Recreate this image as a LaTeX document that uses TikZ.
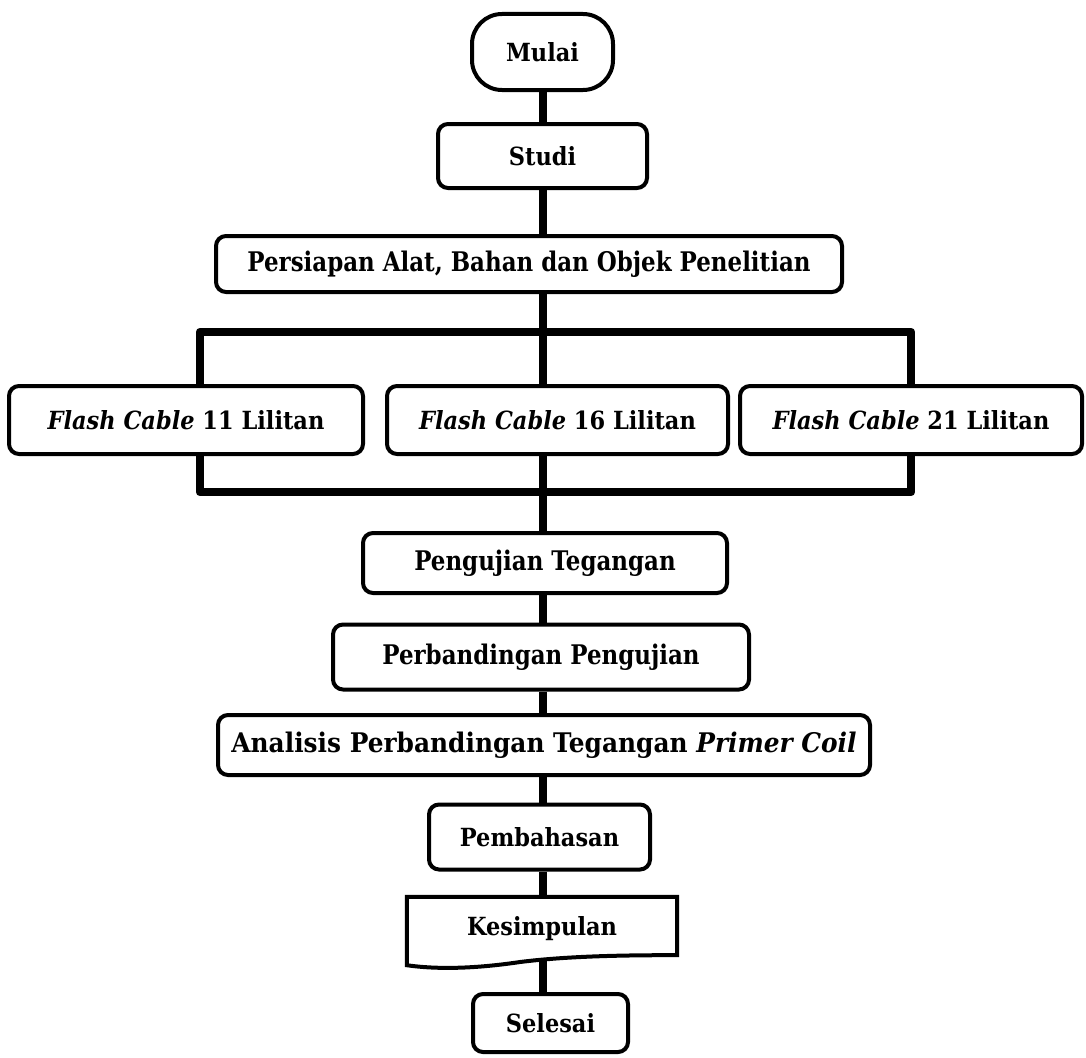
\documentclass[tikz,border=0pt]{standalone}
\usepackage{fontspec}
\setmainfont{DejaVu Serif}[FakeStretch=0.9]
\newfontfamily\condfont[FakeStretch=0.85]{DejaVu Serif}
\newfontfamily\semicondfont[FakeStretch=0.92]{DejaVu Serif}
\pgfdeclarelayer{bg}
\pgfdeclarelayer{mid}
\pgfsetlayers{bg,mid,main}
\tikzset{
  box/.style={draw, line width=4pt, fill=white, rounded corners=10pt, inner sep=0pt,
    font=\fontsize{25}{29}\selectfont\bfseries, align=center},
  condbox/.style={box, font=\fontsize{27}{31}\selectfont\condfont\bfseries},
  link/.style={line width=8pt, line cap=butt},
  bus/.style={line width=8.5pt, line cap=round, line join=round},
}
\begin{document}
\begin{tikzpicture}[x=1pt,y=-1pt]
\useasboundingbox (0,0) rectangle (1086,1057);
\coordinate (sp) at (543,0);
\node[box, rounded corners=30pt, minimum width=141pt, minimum height=76pt] (mulai) at (542.5,52) {Mulai};
\node[box, minimum width=209pt, minimum height=64pt] (studi) at (542.5,156) {Studi};
\node[condbox, minimum width=626pt, minimum height=56pt] (pers) at (529,264) {Persiapan Alat, Bahan dan Objek Penelitian};
\node[box, minimum width=354pt, minimum height=68pt] (f11) at (186,420) {\textit{Flash Cable} 11 Lilitan};
\node[box, minimum width=341pt, minimum height=68pt] (f16) at (557.5,420) {\textit{Flash Cable} 16 Lilitan};
\node[box, minimum width=342pt, minimum height=68pt] (f21) at (911,420) {\textit{Flash Cable} 21 Lilitan};
\node[condbox, minimum width=364pt, minimum height=60pt] (pt) at (545,563) {Pengujian Tegangan};
\node[condbox, minimum width=416pt, minimum height=65pt] (pp) at (541,657) {Perbandingan Pengujian};
\node[condbox, font=\fontsize{27}{31}\selectfont\semicondfont\bfseries, minimum width=652pt, minimum height=60pt] (an) at (544,745) {Analisis Perbandingan Tegangan \textit{Primer Coil}};
\node[box, minimum width=221pt, minimum height=65pt] (pb) at (539.5,837) {Pembahasan};
% document shape
\node[inner sep=0pt, minimum width=270pt, minimum height=64pt, font=\fontsize{25}{29}\selectfont\bfseries] (ks) at (542,929) {Kesimpulan};
\begin{pgfonlayer}{mid}
\draw[line width=4pt, fill=white, line join=miter]
  (ks.north west) -- (ks.north east) -- ([yshift=6pt]ks.south east)
  .. controls (610,955) and (560,957) .. (520,962)
  .. controls (480,968) and (440,970) .. ([yshift=-4pt]ks.south west) -- cycle;
\end{pgfonlayer}
\node[box, minimum width=155pt, minimum height=58pt] (se) at (550.5,1023) {Selesai};
\begin{pgfonlayer}{bg}
\draw[link] (mulai.south -| sp) -- (studi.north -| sp);
\draw[link] (studi.south -| sp) -- (pers.north -| sp);
\draw[bus] (pers.south -| sp) -- (f16.north -| sp);
\coordinate (bt) at (0,332);
\coordinate (bb) at (0,492);
\coordinate (xl) at (200,0);
\coordinate (xr) at (911,0);
\draw[bus] (f11.north -| xl) -- (bt -| xl) -- (bt -| xr) -- (f21.north -| xr);
\draw[bus] (f11.south -| xl) -- (bb -| xl) -- (bb -| xr) -- (f21.south -| xr);
\draw[link] (f16.south -| sp) -- (pt.north -| sp);
\draw[link] (pt.south -| sp) -- (pp.north -| sp);
\draw[link] (pp.south -| sp) -- (an.north -| sp);
\draw[link] (an.south -| sp) -- (pb.north -| sp);
\draw[link] (pb.south -| sp) -- (ks.north -| sp);
\draw[link] (ks.south -| sp) -- (se.north -| sp);
\end{pgfonlayer}
\end{tikzpicture}
\end{document}
